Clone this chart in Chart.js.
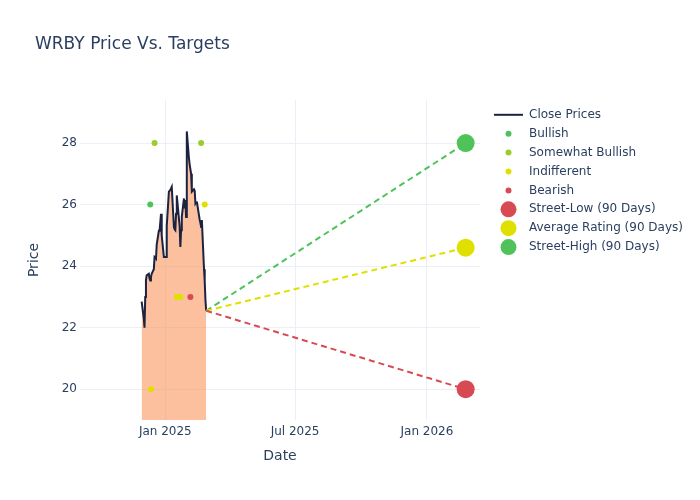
<!DOCTYPE html>
<html>
<head>
<meta charset="utf-8">
<script src="https://cdn.jsdelivr.net/npm/chart.js@4.4.1/dist/chart.umd.min.js"></script>
<style>
  html, body { margin: 0; padding: 0; background: #fff; }
</style>
</head>
<body>
<canvas id="chart" width="700" height="500"></canvas>
<script>
// cours de clôture WRBY
const closeDates = [
  "2024-11-29", "2024-12-02", "2024-12-03", "2024-12-04", "2024-12-05", "2024-12-06",
  "2024-12-09", "2024-12-10", "2024-12-11", "2024-12-12", "2024-12-13",
  "2024-12-16", "2024-12-17", "2024-12-18", "2024-12-19", "2024-12-20",
  "2024-12-23", "2024-12-24", "2024-12-26", "2024-12-27", "2024-12-30", "2024-12-31",
  "2025-01-02", "2025-01-03", "2025-01-06", "2025-01-07", "2025-01-08", "2025-01-10",
  "2025-01-13", "2025-01-14", "2025-01-15", "2025-01-16", "2025-01-17",
  "2025-01-21", "2025-01-22", "2025-01-23", "2025-01-24",
  "2025-01-27", "2025-01-28", "2025-01-29", "2025-01-30", "2025-01-31",
  "2025-02-03", "2025-02-04", "2025-02-05", "2025-02-06", "2025-02-07",
  "2025-02-10", "2025-02-11", "2025-02-12", "2025-02-13", "2025-02-14",
  "2025-02-18", "2025-02-19", "2025-02-20", "2025-02-21",
  "2025-02-24", "2025-02-25", "2025-02-26", "2025-02-27"
];
const closePrices = [
  22.85, 22.3, 22.0, 23.0, 23.55, 23.7,
  23.75, 23.6, 23.53, 23.65, 23.75,
  23.9, 24.3, 24.28, 24.25, 24.7,
  25.15, 25.15, 25.7, 25.0, 24.3, 24.3,
  24.3, 25.3, 26.42, 26.45, 26.48, 26.58,
  25.27, 25.2, 25.17, 25.7, 26.3,
  25.3, 24.62, 25.17, 25.6,
  26.2, 25.88, 26.15, 25.6, 28.38,
  27.5, 27.3, 27.15, 27.0, 26.42,
  26.5, 26.45, 26.04, 26.08, 26.1,
  25.5, 25.4, 25.27, 25.5,
  23.9, 23.5, 22.9, 22.55
];

// avis des analystes
const bullishDates = ["2024-12-11"];
const bullishPrices = [26];
const someBullDates = ["2024-12-17", "2025-02-20"];
const someBullPrices = [28, 28];
const indiffDates = ["2024-12-12", "2025-01-17", "2025-01-22", "2025-02-25"];
const indiffPrices = [20, 23, 23, 26];
const bearishDates = ["2025-02-05"];
const bearishPrices = [23];

// objectifs sur 90 jours
const targetDate = "2026-02-24";
const streetLow = 20;
const avgRating = 24.6;
const streetHigh = 28;

// axes
const xTickDates = ["2025-01-01", "2025-07-01", "2026-01-01"];
const xTickLabels = ["Jan 2025", "Jul 2025", "Jan 2026"];
const yTickValues = [20, 22, 24, 26, 28];

const t = s => Date.parse(s + "T00:00:00Z");
const pts = (ds, vs) => ds.map((d, i) => ({ x: t(d), y: vs[i] }));

const GREEN = "#4fc35a";
const YGREEN = "#98cd2c";
const YELLOW = "#e0e000";
const RED = "#d84a52";
const NAVY = "#1c2340";
const TXT = "#2a3f5f";

Chart.defaults.font.family = '"DejaVu Sans", sans-serif';
Chart.defaults.color = TXT;

const lastX = closeDates[closeDates.length - 1];
const lastY = closePrices[closePrices.length - 1];

const dashLine = (target, color) => ({
  data: [{ x: t(lastX), y: lastY }, { x: t(targetDate), y: target }],
  borderColor: color, borderWidth: 2, borderDash: [6, 4],
  pointRadius: 0, fill: false, hideInLegend: true, order: 5
});
const dots = (data, color, r, order) => ({
  data, showLine: false, pointRadius: r, pointHoverRadius: r,
  backgroundColor: color, borderColor: color, borderWidth: 0, order
});

const datasets = [
  { label: "Close Prices", data: pts(closeDates, closePrices),
    borderColor: NAVY, borderWidth: 2, pointRadius: 0, tension: 0,
    fill: "start", backgroundColor: "rgba(250, 140, 80, 0.55)", order: 10, legendType: "line" },
  Object.assign({ label: "Bullish" }, dots(pts(bullishDates, bullishPrices), GREEN, 3, 2)),
  Object.assign({ label: "Somewhat Bullish" }, dots(pts(someBullDates, someBullPrices), YGREEN, 3, 2)),
  Object.assign({ label: "Indifferent" }, dots(pts(indiffDates, indiffPrices), YELLOW, 3, 2)),
  Object.assign({ label: "Bearish" }, dots(pts(bearishDates, bearishPrices), RED, 3, 2)),
  Object.assign({ label: "Street-Low (90 Days)" }, dots([{ x: t(targetDate), y: streetLow }], RED, 9, 1)),
  Object.assign({ label: "Average Rating (90 Days)" }, dots([{ x: t(targetDate), y: avgRating }], YELLOW, 9, 1)),
  Object.assign({ label: "Street-High (90 Days)" }, dots([{ x: t(targetDate), y: streetHigh }], GREEN, 9, 1)),
  dashLine(streetLow, RED),
  dashLine(avgRating, YELLOW),
  dashLine(streetHigh, GREEN)
];

// titre + légende dessinés à la main (mise en page type plotly)
const decor = {
  id: "decor",
  afterDraw(chart) {
    const ctx = chart.ctx;
    ctx.save();
    ctx.fillStyle = TXT;
    ctx.textBaseline = "middle";
    ctx.font = '17px "DejaVu Sans"';
    ctx.fillText("WRBY Price Vs. Targets", 35, 45);

    ctx.font = '12px "DejaVu Sans"';
    let y = 114.8;
    chart.data.datasets.forEach(ds => {
      if (ds.hideInLegend) return;
      if (ds.legendType === "line") {
        ctx.strokeStyle = ds.borderColor;
        ctx.lineWidth = 2;
        ctx.beginPath();
        ctx.moveTo(494, y);
        ctx.lineTo(523, y);
        ctx.stroke();
      } else {
        ctx.fillStyle = ds.backgroundColor;
        ctx.beginPath();
        ctx.arc(508.5, y, ds.pointRadius > 5 ? 8 : 3, 0, Math.PI * 2);
        ctx.fill();
      }
      ctx.fillStyle = TXT;
      ctx.fillText(ds.label, 529, y);
      y += 18.9;
    });
    ctx.restore();
  }
};

new Chart(document.getElementById("chart"), {
  type: "line",
  data: { datasets },
  plugins: [decor],
  options: {
    responsive: false,
    animation: false,
    devicePixelRatio: 1,
    layout: { padding: { top: 100, right: 220, bottom: 0, left: 0 } },
    plugins: {
      legend: { display: false },
      tooltip: { enabled: false },
      title: { display: false }
    },
    scales: {
      x: {
        type: "linear",
        min: t("2024-09-04"),
        max: t("2026-03-16"),
        afterBuildTicks: s => { s.ticks = xTickDates.map(d => ({ value: t(d) })); },
        afterFit: s => { s.height = 80; },
        ticks: {
          callback: (v, i) => xTickLabels[i],
          color: TXT, font: { size: 12 }, padding: 5, maxRotation: 0, autoSkip: false
        },
        grid: { color: "#ebf0f8", drawTicks: false },
        border: { display: false },
        title: { display: true, text: "Date", color: TXT, font: { size: 14 }, padding: { top: 0, bottom: 35 } }
      },
      y: {
        min: 19,
        max: 29.4,
        afterBuildTicks: s => { s.ticks = yTickValues.map(v => ({ value: v })); },
        afterFit: s => { s.width = 80; },
        ticks: { color: TXT, font: { size: 12 }, padding: 3 },
        grid: { color: "#ebf0f8", drawTicks: false },
        border: { display: false },
        title: { display: true, text: "Price", color: TXT, font: { size: 14 }, padding: { top: 26, bottom: 0 } }
      }
    }
  }
});
</script>
</body>
</html>
